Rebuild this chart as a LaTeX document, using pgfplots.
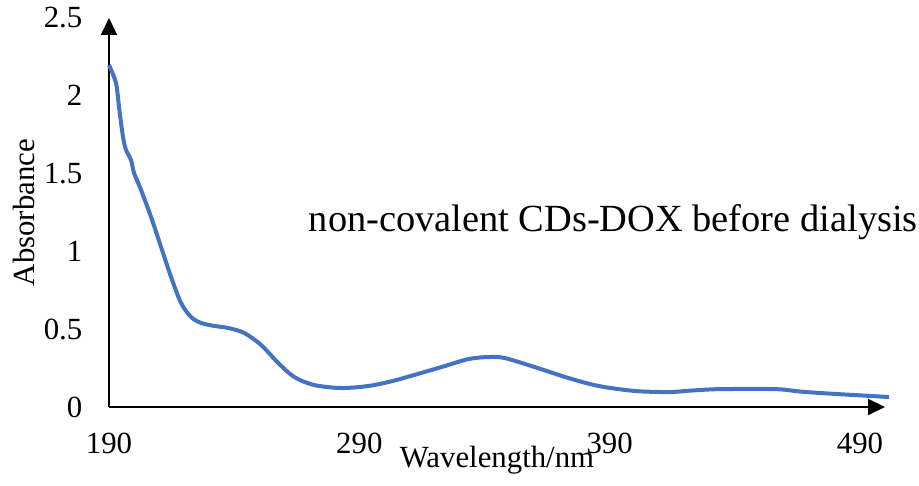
\documentclass[border=0pt]{standalone}
\usepackage{fontspec}
\setmainfont{Liberation Serif}
\usepackage{pgfplots}
\pgfplotsset{compat=1.18}
\usetikzlibrary{arrows.meta}
\definecolor{lineblue}{HTML}{4472C4}

\begin{document}
\begin{tikzpicture}
\begin{axis}[
    scale only axis,
    width=388pt, height=194.5pt,
    xmin=190, xmax=500,
    ymin=0, ymax=2.5,
    axis x line=bottom,
    axis y line=left,
    axis line style={line width=1pt, -{Triangle[length=8.5pt,width=8pt]}},
    xtick={190,290,390,490},
    ytick={0,0.5,1,1.5,2,2.5},
    major tick length=0pt,
    /pgf/number format/assume math mode=true,
    ticklabel style={font=\fontsize{15.4}{18}\selectfont},
    xticklabel style={anchor=north, yshift=-9.5pt},
    yticklabel style={anchor=east, xshift=-9.8pt},
    xlabel={Wavelength/nm},
    ylabel={Absorbance},
    every axis x label/.style={at={([yshift=-30pt]axis description cs:0.5,0)}, anchor=base, font=\fontsize{15.4}{18}\selectfont},
    every axis y label/.style={at={([xshift=-37pt]axis description cs:0,0.5)}, rotate=90, anchor=base, font=\fontsize{15.4}{18}\selectfont},
    clip=false,
]
\addplot[color=lineblue, line width=2pt, smooth] coordinates {
(190,2.198) (192.8,2.082) (194,1.928) (195.6,1.735) (196.8,1.652)
(198.8,1.587) (200,1.504) (202.8,1.395) (206.8,1.221) (210.8,1.028)
(214.8,0.835) (218.8,0.668) (222.8,0.578) (226.8,0.540) (232,0.521)
(237.6,0.508) (244,0.476) (250.8,0.398) (257.6,0.283) (264,0.193)
(272,0.141) (282.8,0.122) (293.6,0.135) (304,0.170) (321.6,0.251)
(333.6,0.308) (341.6,0.321) (348,0.315) (360,0.257) (373.6,0.186)
(385.6,0.135) (400,0.103) (413.6,0.096) (422,0.105) (432,0.114)
(445,0.116) (457.6,0.114) (467,0.098) (480,0.084) (491,0.074) (501.6,0.064)
};
\node[anchor=base west, font=\fontsize{19.2}{23}\selectfont] at (axis cs:267,1.125) {non-covalent CDs-DOX before dialysis};
\end{axis}
\pgfresetboundingbox
\path ([xshift=-54.5pt,yshift=-39.5pt]current axis.south west) rectangle ++(459.5pt,243pt);
\end{tikzpicture}
\end{document}
